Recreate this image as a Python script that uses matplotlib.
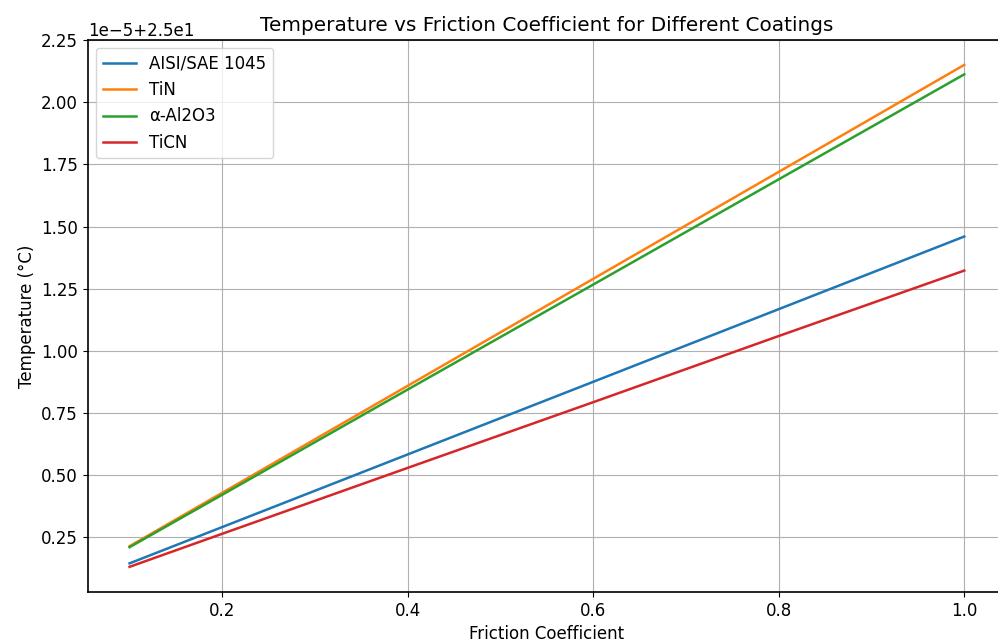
import matplotlib
matplotlib.use("Agg")
from matplotlib import pyplot as plt
import numpy as np

# friction coefficient samples and temperature rise (in 1e-5 degC above 25)
friction = [0.1, 0.2, 0.4, 0.6, 0.8, 1.0]
aisi_1045 = [0.146, 0.292, 0.584, 0.876, 1.168, 1.460]
tin = [0.215, 0.430, 0.860, 1.290, 1.720, 2.150]
al2o3 = [0.211, 0.422, 0.845, 1.267, 1.690, 2.112]
ticn = [0.132, 0.265, 0.530, 0.794, 1.060, 1.323]

base_temp = 25.0
scale = 1e-5

series = [
    ('AISI/SAE 1045', aisi_1045),
    ('TiN', tin),
    ('α-Al2O3', al2o3),
    ('TiCN', ticn),
]

plt.rcParams['font.size'] = 12
plt.rcParams['axes.linewidth'] = 1.2
plt.rcParams['lines.linewidth'] = 1.8

fig = plt.figure(figsize=(9.98, 6.42), dpi=100)
ax = fig.add_axes([0.088, 0.078, 0.92, 0.86])

for name, vals in series:
    ax.plot(friction, base_temp + np.array(vals) * scale, label=name)

ax.set_xlabel('Friction Coefficient')
ax.set_ylabel('Temperature (°C)')
ax.set_title('Temperature vs Friction Coefficient for Different Coatings')
ax.legend(loc='upper left')
ax.grid(True)
# the original crop cuts the frame off on the right
ax.spines['right'].set_visible(False)

fig.savefig('out.png', dpi=100)
